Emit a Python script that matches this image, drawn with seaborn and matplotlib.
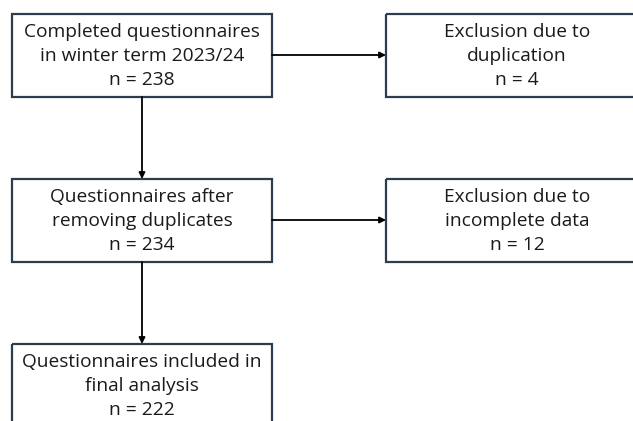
import matplotlib
matplotlib.use("Agg")
import matplotlib.pyplot as plt
import seaborn as sns
from matplotlib.patches import Rectangle

sns.set_theme(style="white")
plt.rcParams['font.family'] = ['Open Sans', 'DejaVu Sans']

# Flowchart content
main_labels = ["Completed questionnaires\nin winter term 2023/24",
               "Questionnaires after\nremoving duplicates",
               "Questionnaires included in\nfinal analysis"]
main_counts = [238, 234, 222]
excl_labels = ["Exclusion due to\nduplication",
               "Exclusion due to\nincomplete data"]
excl_counts = [4, 12]

# Layout (pixel coordinates)
W, H = 633, 421
main_x0, main_x1 = 12, 272
main_tops = [14, 179, 344]
box_h = 83
excl_x0, excl_x1 = 386, 648
edge = "#2b3d4f"
txt = "#1a1a1a"

fig = plt.figure(figsize=(W / 100, H / 100), dpi=100)
ax = fig.add_axes([0, 0, 1, 1])
ax.set_xlim(0, W)
ax.set_ylim(H, 0)
ax.axis("off")

def box(x0, x1, top, label, n):
    ax.add_patch(Rectangle((x0, top), x1 - x0, box_h, fill=False,
                           edgecolor=edge, linewidth=1.6, zorder=2,
                           clip_on=True))
    ax.text((x0 + x1) / 2, top + box_h / 2 + 0.5,
            label + f"\nn = {n}", ha="center", va="center",
            fontsize=13.8, color=txt, linespacing=1.45, zorder=3)

for lab, n, top in zip(main_labels, main_counts, main_tops):
    box(main_x0, main_x1, top, lab, n)
for lab, n, top in zip(excl_labels, excl_counts, main_tops[:2]):
    box(excl_x0, excl_x1, top, lab, n)

arrow_kw = dict(arrowstyle="-|>", color="black", lw=1.3,
                mutation_scale=9, shrinkA=0, shrinkB=0)
cx = (main_x0 + main_x1) / 2
for i in range(2):
    # vertical
    ax.annotate("", xy=(cx, main_tops[i + 1]), xytext=(cx, main_tops[i] + box_h),
                arrowprops=arrow_kw)
    # horizontal
    ymid = main_tops[i] + box_h / 2 - 0.5
    ax.annotate("", xy=(excl_x0, ymid), xytext=(main_x1, ymid),
                arrowprops=arrow_kw)

fig.savefig("out.png", dpi=100, facecolor="white")
